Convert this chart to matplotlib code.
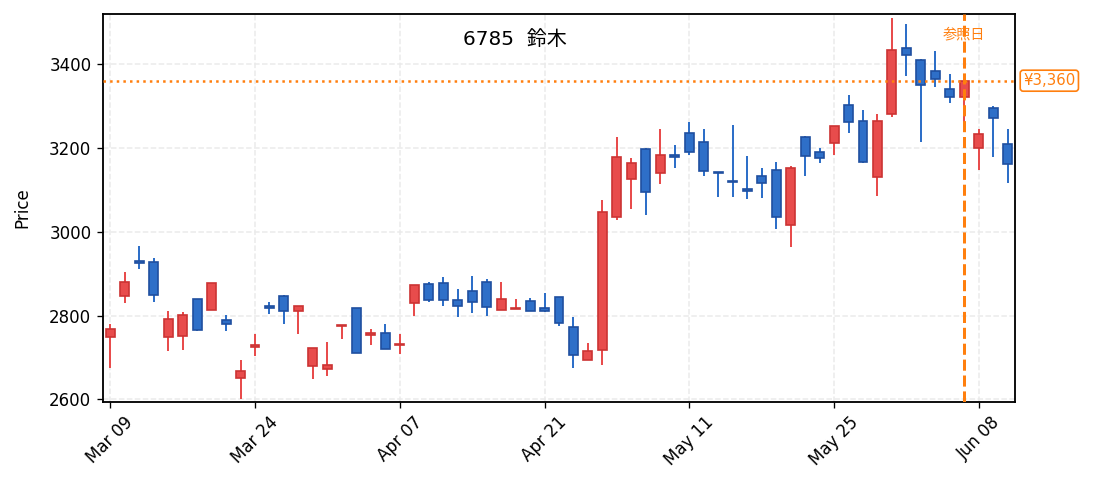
import matplotlib
matplotlib.use('Agg')
import matplotlib.pyplot as plt
import matplotlib.transforms as mtransforms

plt.rcParams['font.family'] = ['DejaVu Sans', 'Noto Sans CJK JP']

# trading days (index based x axis)
dates = ['Mar 09', 'Mar 10', 'Mar 11', 'Mar 12', 'Mar 13', 'Mar 16', 'Mar 17', 'Mar 18', 'Mar 19', 'Mar 23',
         'Mar 24', 'Mar 25', 'Mar 26', 'Mar 27', 'Mar 30', 'Mar 31', 'Apr 01', 'Apr 02', 'Apr 03', 'Apr 06',
         'Apr 07', 'Apr 08', 'Apr 09', 'Apr 10', 'Apr 13', 'Apr 14', 'Apr 15', 'Apr 16', 'Apr 17', 'Apr 20',
         'Apr 21', 'Apr 22', 'Apr 23', 'Apr 24', 'Apr 27', 'Apr 28', 'Apr 30', 'May 01', 'May 07', 'May 08',
         'May 11', 'May 12', 'May 13', 'May 14', 'May 15', 'May 18', 'May 19', 'May 20', 'May 21', 'May 22',
         'May 25', 'May 26', 'May 27', 'May 28', 'May 29', 'Jun 01', 'Jun 02', 'Jun 03', 'Jun 04', 'Jun 05',
         'Jun 08', 'Jun 09', 'Jun 10']

opens = [2748, 2846, 2930, 2928, 2750, 2752, 2839, 2814, 2789, 2652,
         2725, 2824, 2847, 2810, 2679, 2672, 2775, 2817, 2754, 2758,
         2729, 2831, 2875, 2878, 2837, 2858, 2880, 2814, 2816, 2835,
         2818, 2844, 2772, 2695, 2719, 3036, 3126, 3196, 3140, 3182,
         3236, 3213, 3142, 3122, 3101, 3132, 3146, 3017, 3226, 3191,
         3212, 3301, 3263, 3130, 3281, 3437, 3410, 3382, 3341, 3321,
         3200, 3296, 3208]
highs = [2780, 2905, 2967, 2937, 2812, 2809, 2840, 2878, 2802, 2693,
         2756, 2833, 2848, 2823, 2723, 2736, 2777, 2818, 2767, 2781,
         2757, 2873, 2881, 2893, 2864, 2895, 2888, 2881, 2840, 2843,
         2855, 2845, 2797, 2735, 3076, 3226, 3175, 3199, 3245, 3207,
         3262, 3245, 3143, 3255, 3181, 3152, 3167, 3157, 3227, 3200,
         3252, 3326, 3290, 3281, 3510, 3495, 3411, 3431, 3376, 3361,
         3245, 3299, 3245]
lows = [2675, 2830, 2911, 2833, 2715, 2717, 2764, 2813, 2763, 2600,
        2703, 2803, 2779, 2756, 2648, 2656, 2744, 2710, 2729, 2720,
        2708, 2798, 2832, 2822, 2796, 2806, 2798, 2813, 2815, 2811,
        2809, 2775, 2675, 2694, 2682, 3027, 3053, 3041, 3113, 3153,
        3183, 3132, 3082, 3082, 3077, 3081, 3007, 2963, 3132, 3163,
        3182, 3236, 3164, 3086, 3273, 3372, 3213, 3346, 3306, 3255,
        3146, 3177, 3117]
closes = [2768, 2879, 2926, 2848, 2791, 2801, 2765, 2877, 2781, 2667,
          2730, 2817, 2812, 2822, 2722, 2682, 2777, 2711, 2758, 2721,
          2733, 2872, 2838, 2838, 2824, 2832, 2821, 2839, 2819, 2812,
          2812, 2783, 2706, 2715, 3048, 3177, 3163, 3095, 3182, 3179,
          3190, 3145, 3139, 3118, 3097, 3117, 3036, 3153, 3181, 3176,
          3251, 3262, 3166, 3263, 3432, 3421, 3350, 3364, 3321, 3360,
          3232, 3271, 3161]

ref_idx = 59
ref_price = 3360
title = '6785  鈴木'

up_face, up_edge = '#e84c4c', '#cc3333'
dn_face, dn_edge = '#2e6fc8', '#1f4fa0'

fig = plt.figure(figsize=(1093 / 120, 491 / 120), dpi=120)
ax = fig.add_axes([103 / 1093, 1 - 402 / 491, 912 / 1093, 388 / 491])

x = list(range(len(dates)))
for i in x:
    o, h, l, c = opens[i], highs[i], lows[i], closes[i]
    up = c >= o
    face = up_face if up else dn_face
    edge = up_edge if up else dn_edge
    ax.vlines(i, l, h, color=face, linewidth=1.2, zorder=2)
    ax.bar(i, max(abs(c - o), 1.5), bottom=min(o, c), width=0.62,
           color=face, edgecolor=edge, linewidth=1.0, zorder=3)

# reference date / price
ax.axhline(ref_price, color='#ff7f0e', linestyle=':', linewidth=1.5, zorder=4)
ax.axvline(ref_idx, color='#ff7f0e', linestyle='--', linewidth=1.8, zorder=4)
trans = mtransforms.blended_transform_factory(ax.transData, ax.transAxes)
ax.text(ref_idx, 0.946, '参照日', transform=trans, color='#ff7f0e', fontsize=8.5,
        ha='center', va='center')
trans2 = mtransforms.blended_transform_factory(ax.transAxes, ax.transData)
ax.text(1.009, ref_price, f'¥{ref_price:,}', transform=trans2, color='#ff7f0e', fontsize=9,
        ha='left', va='center', clip_on=False,
        bbox=dict(boxstyle='round,pad=0.2', facecolor='white', edgecolor='#ff7f0e', linewidth=1))

ax.text(0.452, 0.933, title, transform=ax.transAxes, fontsize=12, ha='center', va='center')

ax.set_xlim(-0.5, len(dates) - 0.5)
ax.set_ylim(2594, 3519)
ax.set_yticks([2600, 2800, 3000, 3200, 3400])
ticks = x[::10]
ax.set_xticks(ticks)
ax.set_xticklabels([dates[t] for t in ticks], rotation=45, ha='center')
ax.tick_params(labelsize=10)
ax.set_ylabel('Price', fontsize=10)
ax.yaxis.set_label_coords(-0.078, 0.5)
ax.grid(True, linestyle='--', color='#ebebeb', linewidth=0.9, zorder=0)
ax.set_axisbelow(True)
for s in ax.spines.values():
    s.set_linewidth(1.1)

fig.savefig('out.png', dpi=120)
plt.close()
